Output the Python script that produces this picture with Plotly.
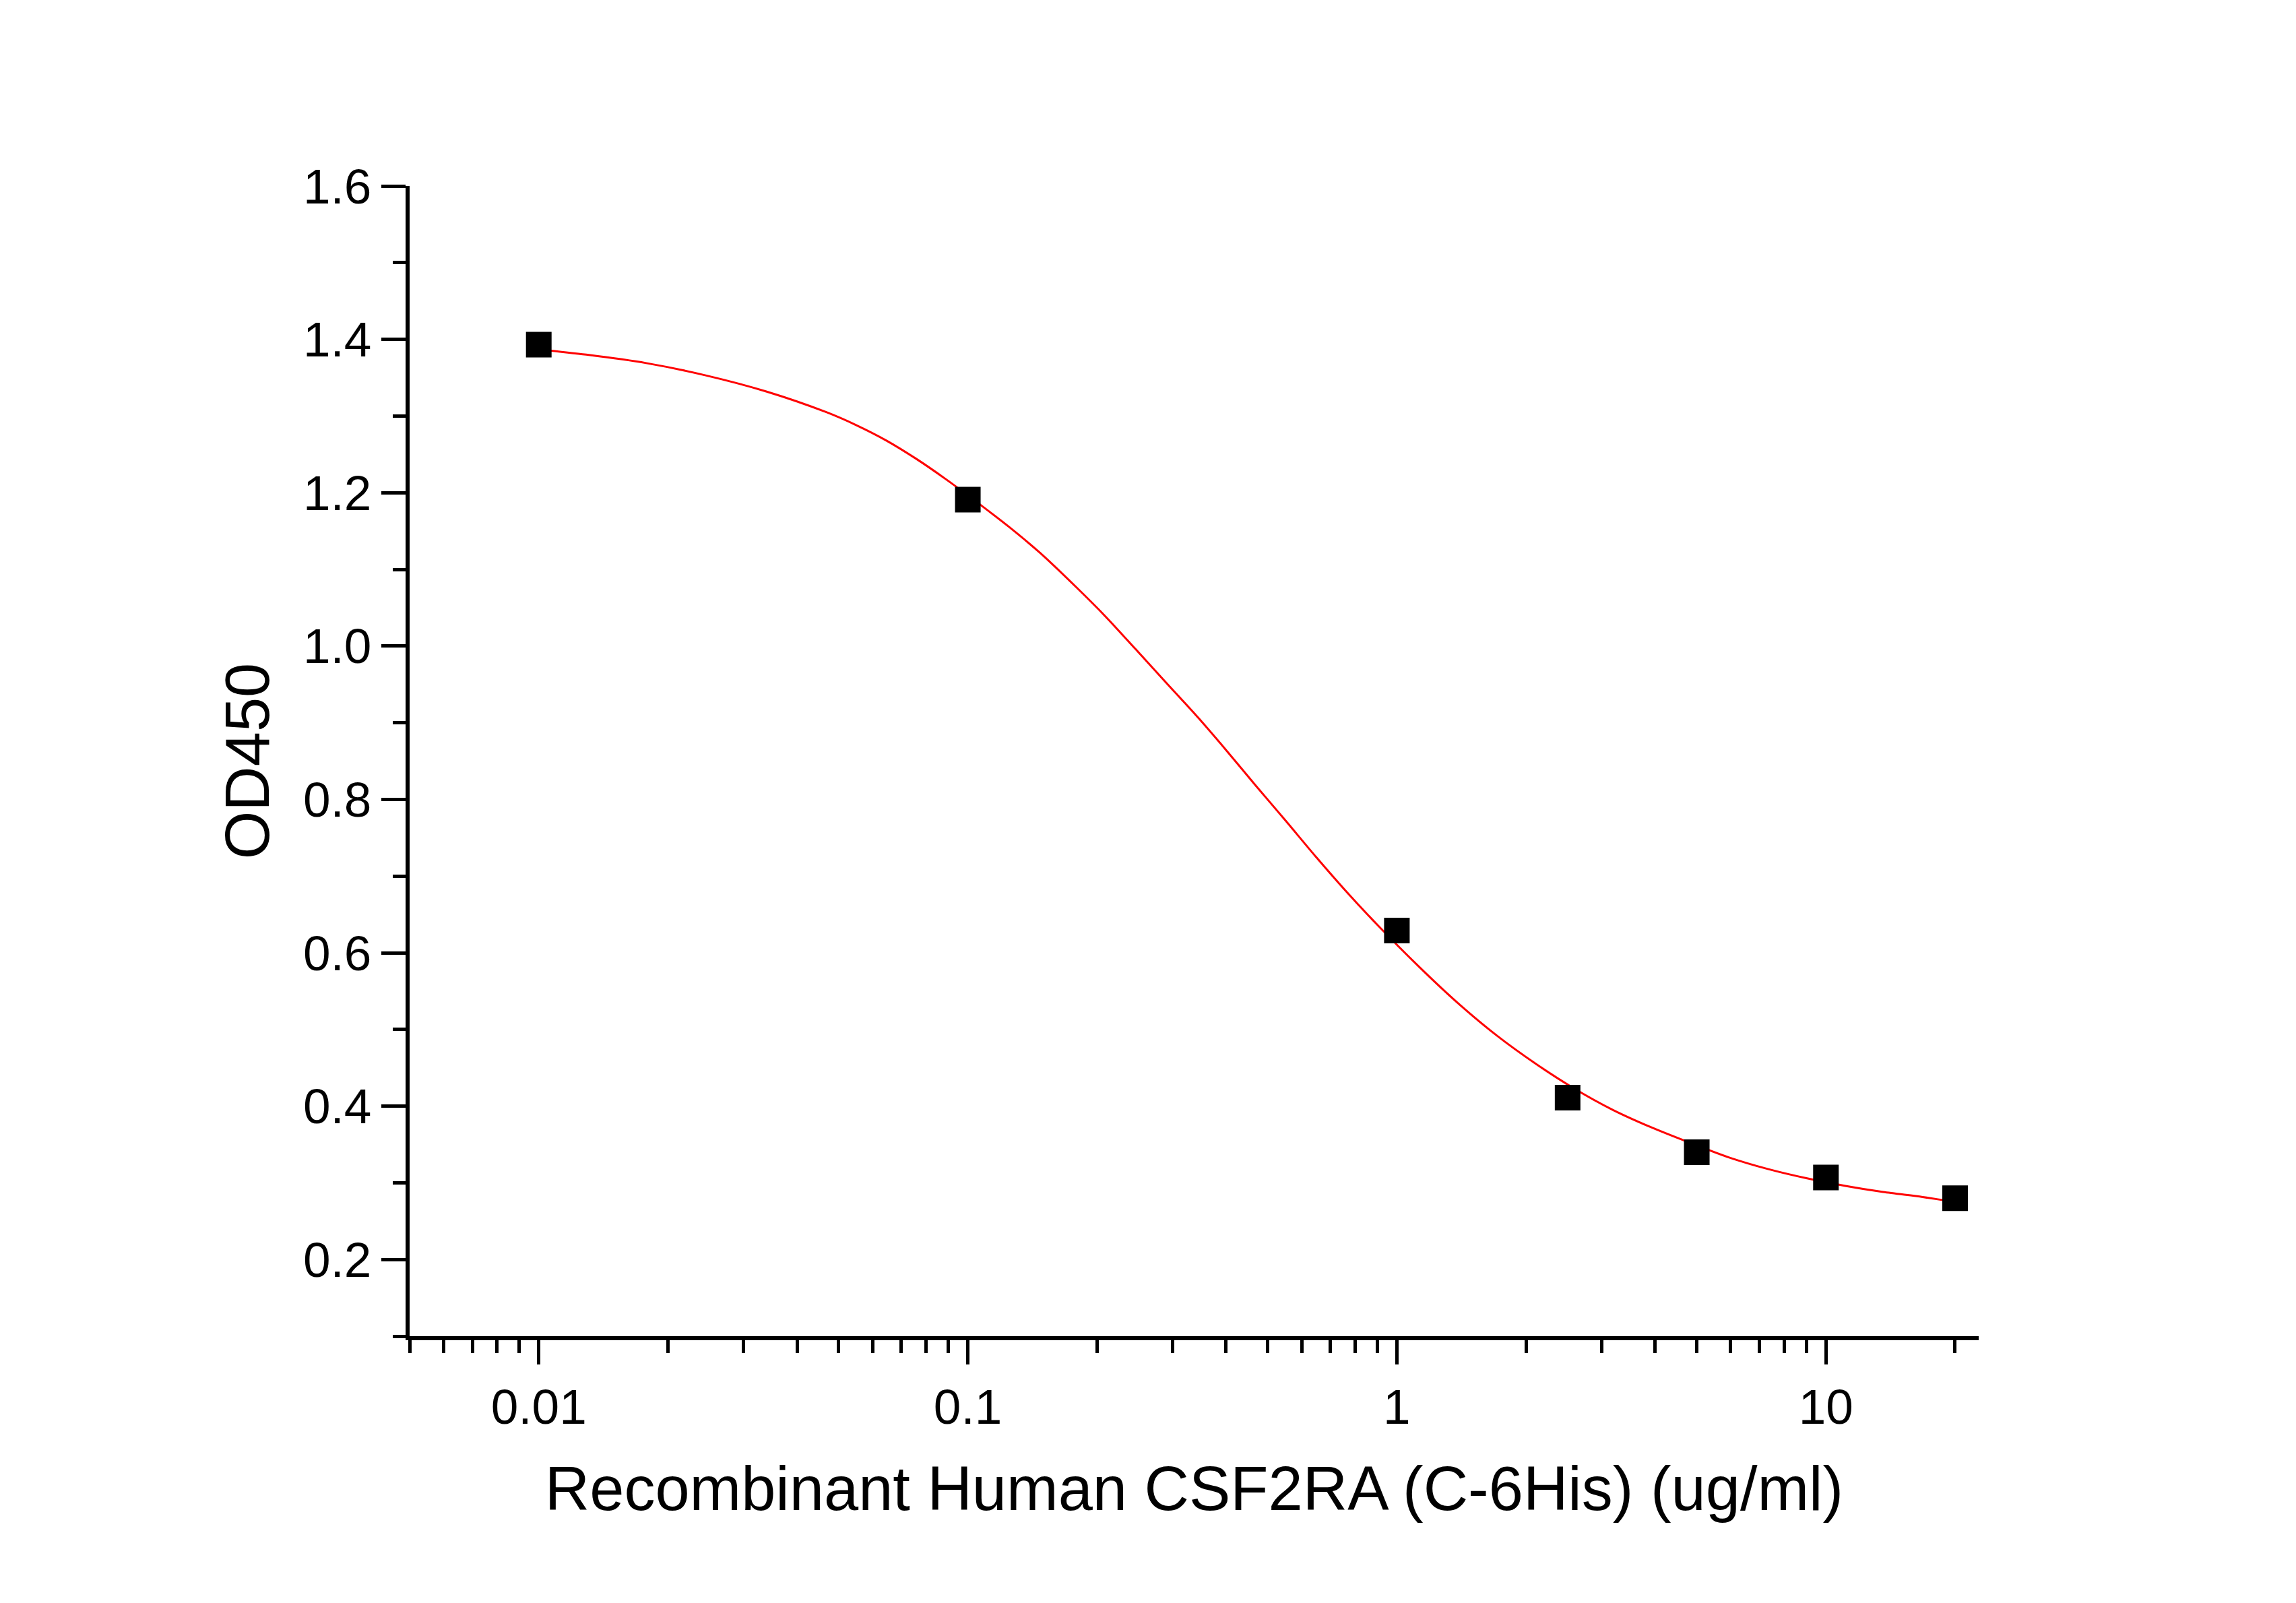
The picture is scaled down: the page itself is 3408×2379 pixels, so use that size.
import math
import plotly.graph_objects as go

# Measured points
conc = [0.01, 0.1, 1, 2.5, 5, 10, 20]
od450 = [1.393, 1.191, 0.629, 0.411, 0.340, 0.307, 0.280]

# Fitted curve
fit_x = [0.01, 0.0129, 0.0178, 0.0245, 0.0339, 0.0468, 0.055, 0.0646, 0.0759, 0.0892,
         0.1048, 0.125, 0.147, 0.178, 0.209, 0.246, 0.289, 0.340, 0.399, 0.469,
         0.551, 0.648, 0.762, 0.895, 1.13, 1.39, 1.71, 2.11, 2.59, 3.19,
         3.93, 4.83, 5.95, 7.32, 9.0, 11.1, 13.6, 16.8, 20]
fit_y = [1.387, 1.380, 1.369, 1.353, 1.332, 1.305, 1.288, 1.268, 1.244, 1.217,
         1.188, 1.155, 1.122, 1.078, 1.039, 0.996, 0.953, 0.910, 0.865, 0.818,
         0.772, 0.725, 0.680, 0.638, 0.581, 0.534, 0.492, 0.455, 0.423, 0.395,
         0.372, 0.352, 0.333, 0.318, 0.306, 0.296, 0.288, 0.2815, 0.275]

x_ticks = [0.01, 0.1, 1, 10]
x_ticktext = ["0.01", "0.1", "1", "10"]
y_ticks = [0.2, 0.4, 0.6, 0.8, 1.0, 1.2, 1.4, 1.6]
y_ticktext = ["0.2", "0.4", "0.6", "0.8", "1.0", "1.2", "1.4", "1.6"]

x_title = "Recombinant Human CSF2RA (C-6His) (ug/ml)"
y_title = "OD450"

FONT = "Arial, 'Liberation Sans', sans-serif"

fig = go.Figure()
fig.add_trace(go.Scatter(
    x=fit_x, y=fit_y, mode="lines",
    line=dict(color="#FF0000", width=3, shape="spline", smoothing=0.8),
    showlegend=False, hoverinfo="skip",
))
fig.add_trace(go.Scatter(
    x=conc, y=od450, mode="markers",
    marker=dict(symbol="square", size=38, color="black", line=dict(width=0)),
    showlegend=False,
))

fig.update_layout(
    width=3408, height=2379,
    margin=dict(l=608, r=471, t=276, b=396, autoexpand=False),
    paper_bgcolor="white", plot_bgcolor="white",
    font=dict(family=FONT, color="black", size=73),
    xaxis=dict(
        type="log",
        range=[math.log10(0.005), math.log10(22.7)],
        tickvals=x_ticks, ticktext=x_ticktext,
        ticks="outside", ticklen=36, tickwidth=5, tickcolor="black",
        showline=True, linecolor="black", linewidth=6,
        showgrid=False, zeroline=False,
        minor=dict(ticks="outside", ticklen=19, tickwidth=5, tickcolor="black",
                   dtick="D1", showgrid=False),
        tickfont=dict(size=73, family=FONT),
        title=dict(text=x_title, font=dict(size=92, family=FONT), standoff=52),
        automargin=False,
    ),
    yaxis=dict(
        range=[0.1, 1.6],
        tickvals=y_ticks, ticktext=y_ticktext,
        ticks="outside", ticklen=36, tickwidth=5, tickcolor="black",
        showline=True, linecolor="black", linewidth=6,
        showgrid=False, zeroline=False,
        minor=dict(ticks="outside", ticklen=19, tickwidth=5, tickcolor="black",
                   tick0=0.1, dtick=0.1, showgrid=False),
        tickfont=dict(size=73, family=FONT),
        title=dict(text=y_title, font=dict(size=92, family=FONT), standoff=22),
        automargin=False,
    ),
)

fig.write_html("out.html")
